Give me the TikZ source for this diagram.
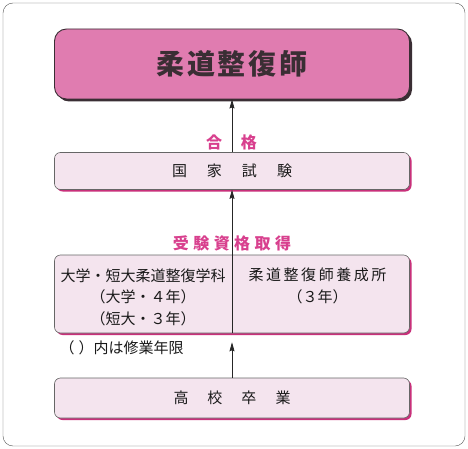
\documentclass[tikz,border=0pt]{standalone}
\usepackage{fontspec}
\setmainfont{Noto Sans CJK JP}
\usepackage{xcolor}
\usepackage{tikz}
\usetikzlibrary{shapes,shadows,arrows.meta}
\definecolor{rosa}{HTML}{E07CB0}
\definecolor{rosalight}{HTML}{F4E4EE}
\definecolor{rosadark}{HTML}{C8307A}
\definecolor{rosatext}{HTML}{D8408E}
\definecolor{inkdark}{HTML}{3A2E34}
\tikzset{titlebox/.style={rectangle,rounded corners=12pt,draw=inkdark,fill=rosa,line width=0.9pt,minimum width=355pt,minimum height=70pt,drop shadow={shadow xshift=2.5pt,shadow yshift=-2.5pt,fill=inkdark,opacity=1},text=inkdark,font=\fontsize{28pt}{32pt}\selectfont\bfseries}}
\tikzset{stagebox/.style={rectangle,rounded corners=6pt,draw=black!60,fill=rosalight,line width=0.6pt,minimum width=355pt,minimum height=37pt,drop shadow={shadow xshift=2pt,shadow yshift=-2pt,fill=rosadark,opacity=1},text=black!90,font=\fontsize{15pt}{21.5pt}\selectfont}}
\tikzset{inner/.style={align=center,text=black!90,font=\fontsize{15pt}{21.5pt}\selectfont}}
\tikzset{pink/.style={text=rosatext,font=\fontsize{16pt}{18pt}\selectfont\bfseries}}

\begin{document}
\begin{tikzpicture}[>={Stealth[length=9pt,width=5pt,inset=1pt]},x=1pt,y=-1pt]
    \useasboundingbox (0,0) rectangle (468,449);
    \draw [black!65,rounded corners=10pt] (3,3) rectangle (465,446);

    \node[titlebox] (a)at (232,64) {\addfontfeature{LetterSpace=10}柔道整復師};
    \node[stagebox] (b)at (232,171) {国\hspace{20pt}家\hspace{20pt}試\hspace{20pt}験};
    \node[stagebox,minimum height=78pt] (c)at (232,294) {};
    \node[stagebox,minimum height=40pt] (d)at (232,398) {高\hspace{19pt}校\hspace{19pt}卒\hspace{19pt}業};

    \node[inner] (c1)at (143,297) {大学・短大柔道整復学科\\（大学・４年）\\（短大・３年）};
    \node[inner] (c2)at (317.5,286) {\addfontfeature{LetterSpace=17}柔道整復師養成所\\（３年）};

    \node[pink] (p)at (231.5,142) {合\hspace{19pt}格};
    \node[pink] (q)at (232,243) {\addfontfeature{LetterSpace=28}受験資格取得};
    \node[inner,anchor=west] (r)at (56,348) {（\hspace{4pt}）内は修業年限};

    \draw [->,black!85,line width=0.7pt,shorten >=9pt] (d) to [] (c);
    \draw [->,black!85,line width=0.7pt] (c.south) to [] (b);
    \draw [->,black!85,line width=0.7pt] (b) to [] (a);
\end{tikzpicture}
\end{document}
